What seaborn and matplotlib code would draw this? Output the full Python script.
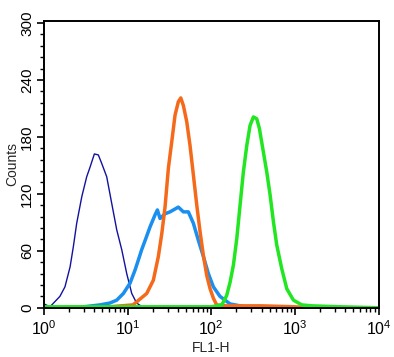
import matplotlib
matplotlib.use("Agg")
import matplotlib.pyplot as plt
from matplotlib.ticker import LogLocator, MultipleLocator, NullFormatter
import seaborn as sns
import pandas as pd

# histogram traces (FL1-H value, counts)
dark_x = [1.0, 1.18, 1.55, 1.78, 2.05, 2.24, 2.46, 2.83, 3.24, 3.55, 4.0, 4.46, 4.9,
          5.62, 6.45, 7.41, 8.51, 9.75, 11.2, 12.8, 14.9, 20.0, 40.0]
dark_y = [4, 1, 12, 22, 43, 64, 89, 117, 138, 148, 162, 161, 152,
          138, 110, 82, 61, 36, 15, 5, 1, 0, 0]

light_x = [3.0, 4.68, 6.15, 7.41, 8.89, 10.7, 12.3, 13.4, 14.7, 16.2, 18.5, 21.3, 22.7,
           24.4, 28.0, 32.1, 40.4, 46.4, 53.2, 61.1, 70.1, 80.5, 92.3, 106, 127,
           168, 254, 400]
light_y = [1, 3, 5, 8, 15, 26, 40, 50, 61, 71, 85, 98, 103,
           94, 99, 101, 106, 101, 101, 89, 71, 54, 36, 22, 12,
           4, 1, 0]

orange_x = [2.0, 6.0, 11.6, 16.9, 20.3, 23.3, 25.6, 28.0, 30.7, 33.7, 36.9, 40.4, 43.2,
            46.4, 50.9, 55.7, 61.1, 67.1, 73.5, 80.5, 88.3, 96.8, 106, 116, 150,
            400, 1000, 1500]
orange_y = [0, 1, 3, 15, 29, 54, 78, 106, 147, 175, 203, 217, 221,
            213, 196, 171, 140, 108, 80, 55, 34, 20, 10, 3, 2,
            2, 1, 0]

green_x = [1.0, 10.0, 100, 134, 153, 168, 184, 202, 221, 242, 266, 291, 319, 350,
           376, 420, 461, 505, 553, 607, 697, 800, 960, 1210, 1590, 3470, 10000]
green_y = [1, 1, 1, 3, 13, 27, 45, 73, 108, 143, 171, 192, 201, 199,
           189, 164, 143, 119, 91, 66, 41, 20, 8, 3, 2, 1, 0]

sns.set_style("ticks")
plt.rcParams['font.family'] = ['Liberation Sans', 'DejaVu Sans']

fig = plt.figure(figsize=(3.94, 3.57), dpi=100)
ax = fig.add_axes([0.1117, 0.138, 0.849, 0.803])

traces = [
    (dark_x, dark_y, "#1212a0", 1.0),
    (light_x, light_y, "#1a8fef", 2.5),
    (orange_x, orange_y, "#f56a1a", 2.5),
    (green_x, green_y, "#22e622", 2.5),
]
for xs, ys, col, lw in traces:
    df = pd.DataFrame({"FL1-H": xs, "Counts": ys})
    sns.lineplot(data=df, x="FL1-H", y="Counts", color=col, linewidth=lw,
                 ax=ax, sort=False, estimator=None)

ax.set_xscale("log")
ax.set_xlim(1, 10000)
ax.set_ylim(0, 302)
ax.yaxis.set_major_locator(MultipleLocator(60))
ax.yaxis.set_minor_locator(MultipleLocator(12))
ax.xaxis.set_major_locator(LogLocator(base=10, numticks=10))
ax.xaxis.set_minor_locator(LogLocator(base=10, subs=range(2, 10), numticks=50))
ax.xaxis.set_minor_formatter(NullFormatter())

for s in ax.spines.values():
    s.set_linewidth(1.4)
    s.set_color("black")
ax.tick_params(axis="both", which="major", length=5, width=1.2, colors="black", labelsize=11.5)
ax.tick_params(axis="both", which="minor", length=3, width=1.0, colors="black")
ax.tick_params(axis="y", labelsize=11, pad=2)
for lab in ax.get_yticklabels():
    lab.set_rotation(90)
    lab.set_va("center")

ax.set_xlabel("FL1-H", fontsize=10, labelpad=2)
ax.set_ylabel("Counts", fontsize=10, labelpad=1)

fig.savefig("out.png", dpi=100)
